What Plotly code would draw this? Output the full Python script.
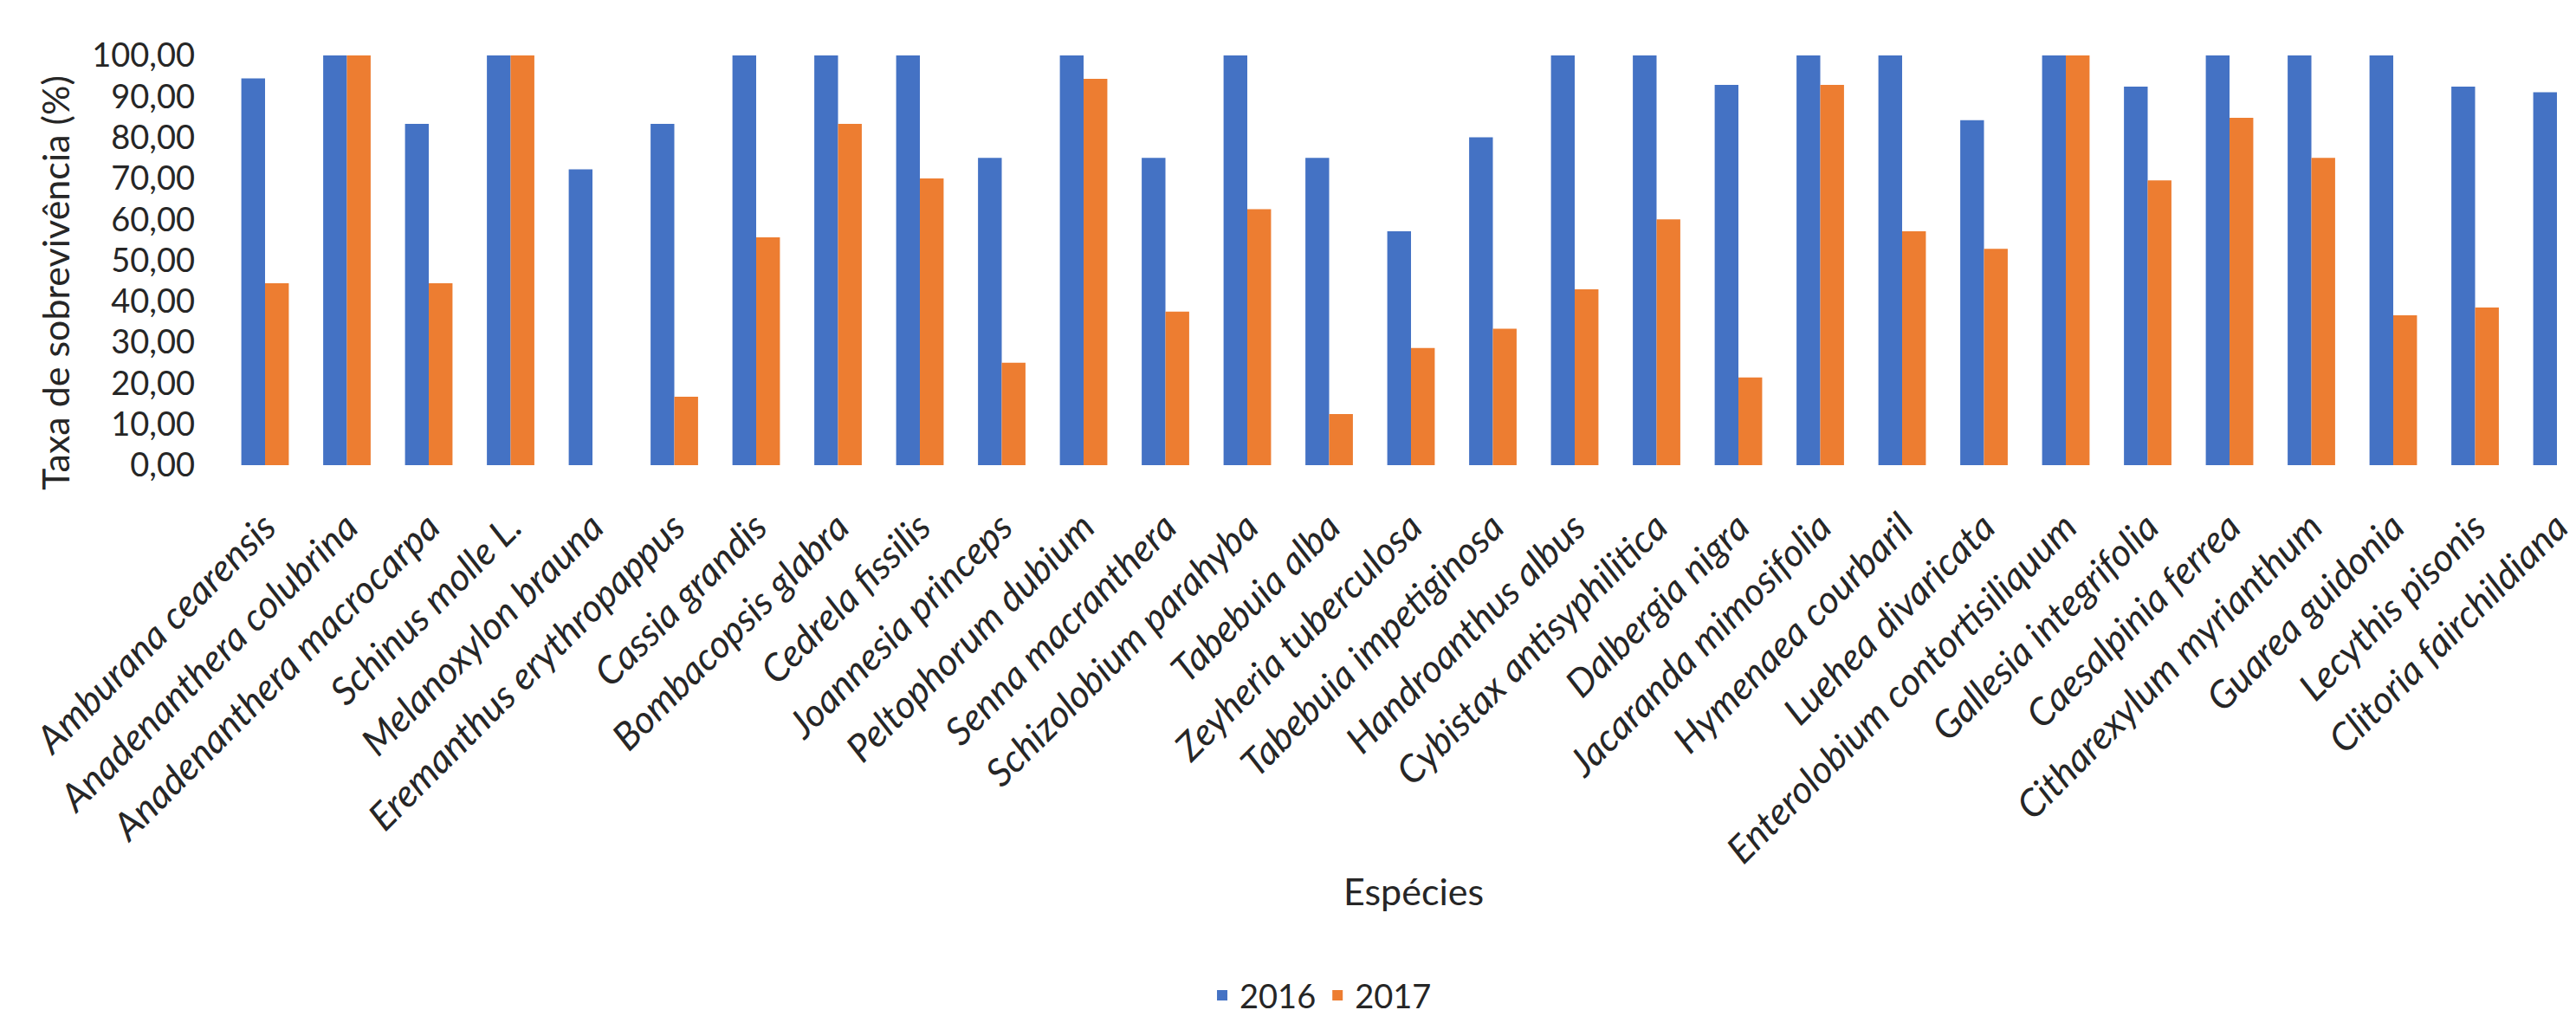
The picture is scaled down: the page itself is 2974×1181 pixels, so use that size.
import plotly.graph_objects as go

species = [
    "Amburana cearensis", "Anadenanthera colubrina", "Anadenanthera macrocarpa",
    "Schinus molle L.", "Melanoxylon brauna", "Eremanthus erythropappus",
    "Cassia grandis", "Bombacopsis glabra", "Cedrela fissilis", "Joannesia princeps",
    "Peltophorum dubium", "Senna macranthera", "Schizolobium parahyba", "Tabebuia alba",
    "Zeyheria tuberculosa", "Tabebuia impetiginosa", "Handroanthus albus",
    "Cybistax antisyphilitica", "Dalbergia nigra", "Jacaranda mimosifolia",
    "Hymenaea courbaril", "Luehea divaricata", "Enterolobium contortisiliquum",
    "Gallesia integrifolia", "Caesalpinia ferrea", "Citharexylum myrianthum",
    "Guarea guidonia", "Lecythis pisonis", "Clitoria fairchildiana",
]
surv_2016 = [94.4, 100, 83.3, 100, 72.2, 83.3, 100, 100, 100, 75.0,
             100, 75.0, 100, 75.0, 57.1, 80.0, 100, 100, 92.8, 100,
             100, 84.2, 100, 92.4, 100, 100, 100, 92.4, 91.0]
surv_2017 = [44.4, 100, 44.4, 100, 0, 16.7, 55.6, 83.3, 70.0, 25.0,
             94.3, 37.5, 62.5, 12.5, 28.6, 33.3, 42.9, 60.0, 21.4, 92.8,
             57.1, 52.8, 100, 69.5, 84.8, 75.0, 36.6, 38.5, None]
y_ticks = [0, 10, 20, 30, 40, 50, 60, 70, 80, 90, 100]
series_names = ["2016", "2017"]

W, H = 2974, 1181
ML, MR, MT, MB = 240, 0, 64, 1181 - 543
PW, PH = W - ML - MR, H - MT - MB

def px_x(p):
    return (p - ML) / PW

def px_y(p):
    return (H - MB - p) / PH

FONT = "Lato, 'Open Sans', sans-serif"
TXT = "#262626"

idx = list(range(len(species)))
fig = go.Figure()
fig.add_trace(go.Bar(x=idx, y=surv_2016, name=series_names[0], marker_color="#4472C4",
                     marker_line_width=0))
fig.add_trace(go.Bar(x=idx, y=surv_2017, name=series_names[1], marker_color="#ED7D31",
                     marker_line_width=0))

# first category centre at ~306.5 px, last one just inside the right edge
first_c, last_c = 306.5, 2972.0
step = (last_c - first_c) / (len(species) - 1)
x0 = (ML - first_c) / step
x1 = x0 + PW / step

fig.update_layout(
    width=W, height=H,
    margin=dict(l=ML, r=MR, t=MT, b=MB, pad=0),
    paper_bgcolor="white", plot_bgcolor="white",
    barmode="group", bargap=0.42, bargroupgap=0,
    font=dict(family=FONT, color=TXT),
    showlegend=True,
    legend=dict(orientation="h", x=px_x(1534), xanchor="center", y=px_y(1163),
                yanchor="middle", font=dict(size=38, family=FONT, color=TXT),
                itemwidth=30, traceorder="normal"),
    xaxis=dict(
        range=[x0, x1], tickmode="array", tickvals=idx,
        ticktext=[f"<i>{s}</i>" for s in species],
        tickangle=-45, tickfont=dict(size=44, family=FONT, color=TXT),
        showgrid=False, zeroline=False, showline=False, ticks="",
        ticklabelstandoff=36, ticklabeloverflow="allow",
    ),
    yaxis=dict(
        range=[0, 100], tickmode="array", tickvals=y_ticks,
        ticktext=[f"{v:.2f}".replace(".", ",") for v in y_ticks],
        tickfont=dict(size=38, family=FONT, color=TXT),
        showgrid=False, zeroline=False, showline=False, ticks="",
        ticklabelstandoff=14,
    ),
    annotations=[
        dict(text="Taxa de sobrevivência (%)", textangle=-90, xref="paper", yref="paper",
             x=px_x(62), y=px_y(330), xanchor="center", yanchor="middle",
             showarrow=False, font=dict(size=43, family=FONT, color=TXT)),
        dict(text="Espécies", xref="paper", yref="paper",
             x=px_x(1642), y=px_y(1041), xanchor="center", yanchor="middle",
             showarrow=False, font=dict(size=43, family=FONT, color=TXT)),
    ],
)

fig.write_html("out.html")
